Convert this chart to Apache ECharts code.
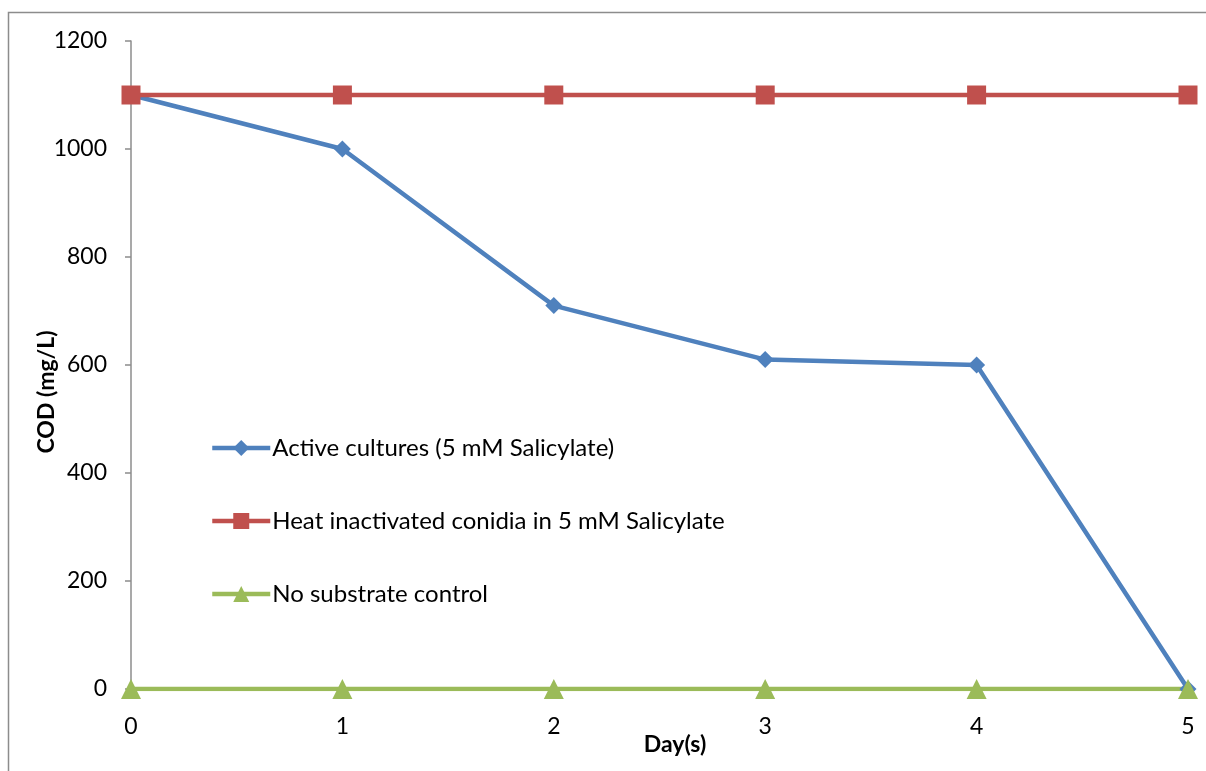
<!DOCTYPE html>
<html>
<head>
<meta charset="utf-8">
<script src="https://cdn.jsdelivr.net/npm/echarts@6/dist/echarts.min.js"></script>
<style>
  html, body { margin: 0; padding: 0; background: #fff; }
  #chart { width: 1206px; height: 771px; }
</style>
</head>
<body>
<div id="chart"></div>
<script>
// Days of sampling
const days = [0, 1, 2, 3, 4, 5];
// COD (mg/L) per series
const activeCultures = [1100, 1000, 710, 610, 600, 0];
const heatInactivated = [1100, 1100, 1100, 1100, 1100, 1100];
const noSubstrate = [0, 0, 0, 0, 0, 0];
const seriesNames = [
  'Active cultures (5 mM Salicylate)',
  'Heat inactivated conidia in 5 mM Salicylate',
  'No substrate control'
];
const xTitle = 'Day(s)';
const yTitle = 'COD (mg/L)';

const font = 'Lato, "Open Sans", sans-serif';
const pair = (vals) => days.map((d, i) => [d, vals[i]]);

const chart = echarts.init(document.getElementById('chart'), null, { renderer: 'canvas' });
chart.setOption({
  animation: false,
  backgroundColor: '#fff',
  graphic: [
    {
      type: 'rect',
      shape: { x: 8.5, y: 12.5, width: 1220, height: 780 },
      style: { fill: null, stroke: '#8c8c8c', lineWidth: 1.5 },
      silent: true
    },
    {
      type: 'text', x: 47, y: 392, rotation: Math.PI / 2,
      style: { text: yTitle, font: 'bold 23px ' + font, fill: '#000', align: 'center', verticalAlign: 'middle' },
      silent: true
    },
    {
      type: 'text', x: 675, y: 745,
      style: { text: xTitle, font: 'bold 23px ' + font, fill: '#000', align: 'center', verticalAlign: 'middle' },
      silent: true
    }
  ],
  grid: { left: 131, right: 18, top: 41, bottom: 82 },
  legend: {
    orient: 'vertical',
    left: 210,
    top: 436,
    padding: 0,
    itemWidth: 58,
    itemHeight: 20,
    itemGap: 49,
    lineStyle: { width: 4.5 },
    textStyle: { fontFamily: font, fontSize: 24, color: '#000', padding: [0, 0, 0, -3] },
    data: seriesNames
  },
  xAxis: {
    type: 'value',
    min: 0, max: 5, interval: 1,
    axisLine: { show: true, lineStyle: { color: '#8c8c8c', width: 1.5 } },
    axisTick: { show: false },
    splitLine: { show: false },
    axisLabel: { fontFamily: font, fontSize: 23, color: '#000', margin: 26 }
  },
  yAxis: {
    type: 'value',
    min: 0, max: 1200, interval: 200,
    axisLine: { show: true, lineStyle: { color: '#8c8c8c', width: 1.5 } },
    axisTick: { show: true, inside: false, length: 6, lineStyle: { color: '#8c8c8c', width: 1.5 } },
    splitLine: { show: false },
    axisLabel: { fontFamily: font, fontSize: 23, color: '#000', margin: 24, formatter: (v) => String(v) }
  },
  series: [
    {
      name: seriesNames[0], type: 'line', data: pair(activeCultures),
      symbol: 'diamond', symbolSize: 17,
      lineStyle: { color: '#4F81BD', width: 4.5 },
      itemStyle: { color: '#4F81BD' }
    },
    {
      name: seriesNames[1], type: 'line', data: pair(heatInactivated),
      symbol: 'rect', symbolSize: 19,
      lineStyle: { color: '#C0504D', width: 4.5 },
      itemStyle: { color: '#C0504D' }
    },
    {
      name: seriesNames[2], type: 'line', data: pair(noSubstrate),
      symbol: 'triangle', symbolSize: 20,
      lineStyle: { color: '#9BBB59', width: 4.5 },
      itemStyle: { color: '#9BBB59' }
    }
  ]
});
</script>
</body>
</html>
